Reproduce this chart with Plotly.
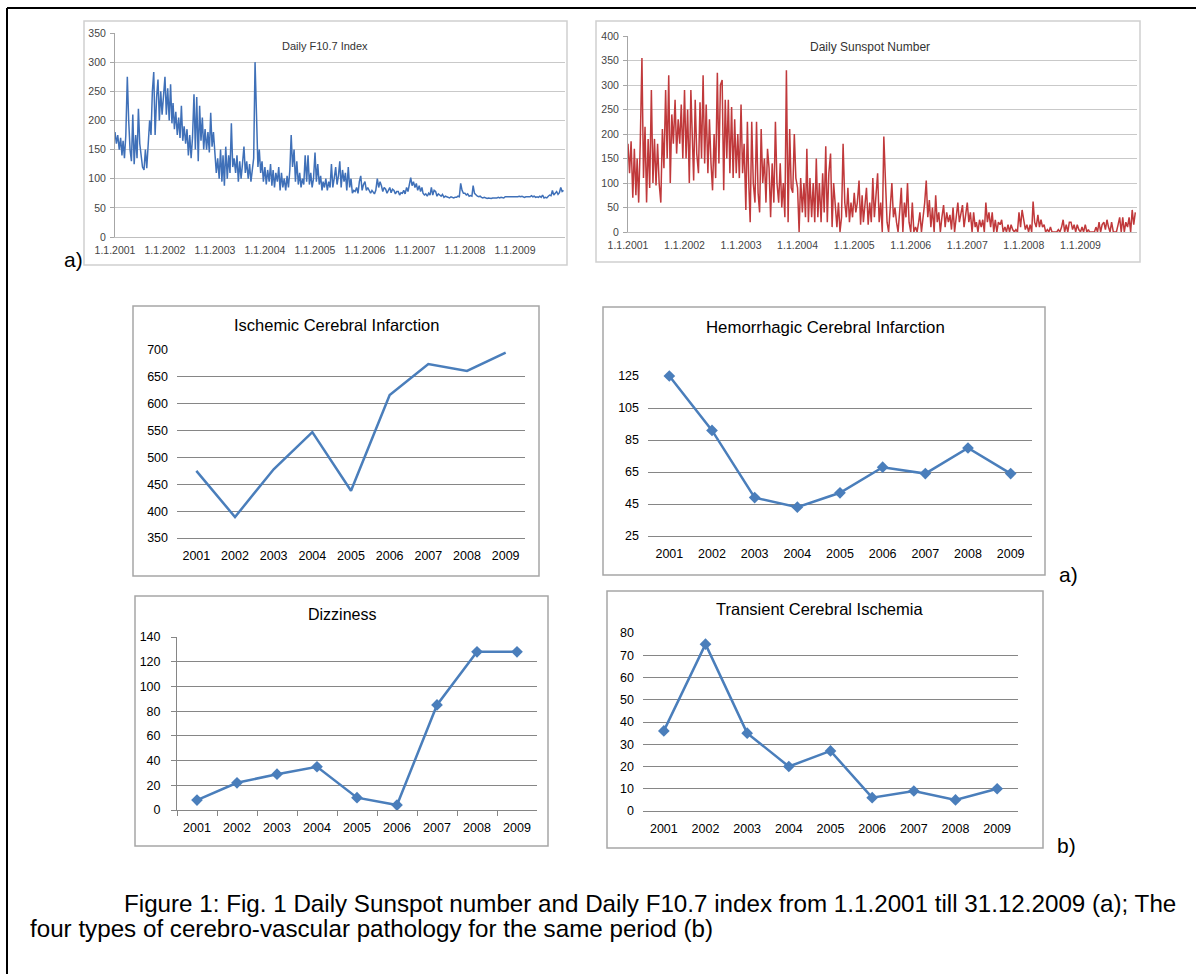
import plotly.graph_objects as go
import datetime as dt

W, H = 1196, 974

# ---------------- data ----------------
years_lbl = ["2001", "2002", "2003", "2004", "2005", "2006", "2007", "2008", "2009"]
year_ticks = ["1.1.2001", "1.1.2002", "1.1.2003", "1.1.2004", "1.1.2005",
              "1.1.2006", "1.1.2007", "1.1.2008", "1.1.2009"]

# Daily F10.7 index (read approx. every 10 days from the picture)
f107_2001 = [180, 160, 175, 150, 170, 140, 165, 135, 175, 275, 200, 150,
             130, 210, 125, 175, 135, 220, 160, 140, 120, 115, 150, 118,
             165, 200, 175, 250, 283, 175, 240, 270, 200, 250, 210, 240]
f107_2002 = [275, 210, 255, 200, 262, 195, 230, 185, 215, 175, 205, 170,
             225, 165, 190, 160, 185, 140, 175, 135, 170, 245, 150, 240,
             130, 225, 165, 205, 150, 185, 150, 180, 145, 213, 155, 180]
f107_2003 = [150, 110, 135, 100, 150, 95, 140, 88, 155, 100, 140, 110,
             195, 120, 135, 110, 140, 95, 130, 100, 125, 155, 110, 130,
             100, 125, 95, 115, 135, 300, 175, 120, 150, 110, 130, 95]
f107_2004 = [120, 90, 115, 95, 125, 88, 115, 85, 110, 95, 120, 80,
             110, 85, 100, 80, 105, 85, 115, 175, 120, 150, 95, 130,
             90, 110, 85, 100, 90, 140, 95, 140, 90, 110, 85, 100]
f107_2005 = [145, 95, 125, 90, 105, 80, 95, 85, 100, 80, 95, 85,
             125, 85, 100, 120, 90, 105, 130, 85, 115, 95, 110, 80,
             120, 85, 100, 75, 80, 78, 85, 75, 95, 105, 80, 90]
f107_2006 = [95, 80, 85, 78, 75, 80, 77, 74, 80, 100, 85, 95,
             88, 78, 85, 82, 75, 80, 85, 76, 82, 80, 74, 78,
             78, 72, 76, 75, 80, 74, 85, 78, 90, 102, 88, 95]
f107_2007 = [85, 92, 80, 88, 78, 85, 75, 72, 74, 70, 75, 72,
             85, 72, 80, 78, 70, 74, 72, 70, 73, 68, 70, 69,
             68, 67, 69, 68, 67, 68, 68, 70, 69, 92, 80, 75]
f107_2008 = [75, 72, 74, 70, 71, 70, 88, 75, 72, 70, 69, 70,
             68, 67, 68, 67, 66, 67, 66, 66, 67, 67, 66, 67,
             68, 67, 68, 68, 67, 69, 69, 68, 68, 68, 69, 68]
f107_2009 = [69, 68, 69, 70, 69, 70, 69, 68, 69, 69, 70, 69,
             71, 69, 70, 68, 69, 68, 70, 68, 72, 67, 68, 67,
             70, 72, 71, 80, 72, 76, 78, 73, 76, 85, 78, 80]

# Daily sunspot number (read approx. every 10 days from the picture)
ssn_2001 = [180, 120, 185, 70, 170, 75, 150, 60, 180, 355, 110, 215,
            60, 190, 90, 290, 100, 190, 95, 180, 100, 60, 210, 130,
            290, 150, 320, 100, 240, 180, 270, 160, 230, 180, 260, 150]
ssn_2002 = [290, 150, 250, 100, 290, 180, 105, 270, 160, 120, 265, 150,
            320, 140, 260, 120, 230, 140, 85, 200, 110, 325, 140, 300,
            310, 85, 270, 150, 270, 120, 255, 110, 230, 120, 200, 110]
ssn_2003 = [260, 120, 180, 45, 225, 90, 20, 225, 100, 60, 225, 80,
            40, 210, 100, 150, 60, 170, 130, 30, 140, 60, 225, 100,
            60, 140, 50, 100, 30, 330, 20, 210, 90, 80, 200, 110]
ssn_2004 = [90, 0, 110, 40, 100, 30, 170, 20, 110, 30, 100, 20,
            150, 30, 100, 20, 120, 40, 175, 20, 120, 160, 10, 100,
            50, 10, 60, 0, 30, 180, 60, 30, 90, 20, 60, 30]
ssn_2005 = [80, 40, 60, 105, 15, 75, 20, 50, 90, 15, 60, 20,
            110, 30, 80, 120, 20, 60, 0, 195, 110, 20, 0, 60,
            100, 30, 50, 20, 0, 40, 90, 0, 60, 30, 100, 20]
ssn_2006 = [0, 60, 0, 10, 0, 20, 40, 0, 30, 60, 105, 30,
            65, 10, 50, 0, 75, 20, 40, 0, 30, 55, 10, 40,
            20, 35, 5, 50, 0, 30, 60, 20, 40, 55, 10, 30]
ssn_2007 = [60, 20, 40, 0, 40, 10, 20, 0, 25, 10, 25, 0,
            60, 20, 40, 10, 40, 0, 25, 0, 20, 15, 25, 0,
            10, 0, 15, 0, 15, 5, 0, 5, 0, 40, 10, 45]
ssn_2008 = [20, 5, 15, 0, 15, 0, 62, 20, 10, 35, 10, 25,
            10, 15, 0, 5, 0, 10, 0, 0, 0, 0, 5, 0,
            10, 25, 0, 15, 0, 20, 20, 5, 15, 0, 15, 5]
ssn_2009 = [0, 10, 0, 15, 0, 5, 0, 0, 0, 0, 10, 0,
            20, 0, 15, 20, 5, 25, 10, 0, 20, 0, 0, 0,
            15, 30, 0, 30, 0, 20, 10, 30, 0, 45, 15, 40]

f107 = (f107_2001 + f107_2002 + f107_2003 + f107_2004 + f107_2005 +
        f107_2006 + f107_2007 + f107_2008 + f107_2009)
ssn = (ssn_2001 + ssn_2002 + ssn_2003 + ssn_2004 + ssn_2005 +
       ssn_2006 + ssn_2007 + ssn_2008 + ssn_2009)

ischemic = [475, 389, 478, 547, 438, 616, 674, 661, 695]
hemorrhagic = [125, 91, 49, 43, 52, 68, 64, 80, 64]
dizziness = [8, 22, 29, 35, 10, 4, 85, 128, 128]
transient = [36, 75, 35, 20, 27, 6, 9, 5, 10]

# dates of the readings: 1st, 11th and 21st of each month
dates = []
for y in range(2001, 2010):
    for m in range(1, 13):
        for d in (1, 11, 21):
            dates.append(dt.date(y, m, d))
tick_dates = [dt.date(int(s), 1, 1) for s in years_lbl]

# ---------------- helpers ----------------
def xd(a, b):
    return [a / W, b / W]

def yd(top, bottom):
    return [1 - bottom / H, 1 - top / H]

def px(x):
    return x / W

def py(y):
    return 1 - y / H

FONT = "Liberation Sans, Arial, sans-serif"
BLUE = "#4a7ebb"

fig = go.Figure()

# top charts
fig.add_trace(go.Scatter(x=dates, y=f107, mode="lines",
                         line=dict(color="#3f70b8", width=1.5),
                         xaxis="x", yaxis="y", showlegend=False))
fig.add_trace(go.Scatter(x=dates, y=ssn, mode="lines",
                         line=dict(color="#c0393b", width=1.5),
                         xaxis="x2", yaxis="y2", showlegend=False))
# middle / bottom charts
fig.add_trace(go.Scatter(x=years_lbl, y=ischemic, mode="lines",
                         line=dict(color=BLUE, width=2.5),
                         xaxis="x3", yaxis="y3", showlegend=False, cliponaxis=False))
fig.add_trace(go.Scatter(x=years_lbl, y=hemorrhagic, mode="lines+markers",
                         line=dict(color=BLUE, width=2.5),
                         marker=dict(symbol="diamond", size=9, color=BLUE),
                         xaxis="x4", yaxis="y4", showlegend=False, cliponaxis=False))
fig.add_trace(go.Scatter(x=years_lbl, y=dizziness, mode="lines+markers",
                         line=dict(color=BLUE, width=2.5),
                         marker=dict(symbol="diamond", size=9, color=BLUE),
                         xaxis="x5", yaxis="y5", showlegend=False, cliponaxis=False))
fig.add_trace(go.Scatter(x=years_lbl, y=transient, mode="lines+markers",
                         line=dict(color=BLUE, width=2.5),
                         marker=dict(symbol="diamond", size=9, color=BLUE),
                         xaxis="x6", yaxis="y6", showlegend=False, cliponaxis=False))

top_tick_font = dict(family=FONT, size=10.5, color="#444444")
mid_tick_font = dict(family=FONT, size=12.5, color="#000000")

layout = dict(
    width=W, height=H, margin=dict(l=0, r=0, t=0, b=0, autoexpand=False),
    paper_bgcolor="white", plot_bgcolor="rgba(0,0,0,0)",
    # F10.7
    xaxis=dict(domain=xd(115, 565), type="date",
               range=[dt.date(2001, 1, 1), dt.date(2010, 1, 1)],
               tickvals=tick_dates, ticktext=year_ticks, showgrid=False,
               showline=True, linecolor="#bfbfbf", linewidth=1,
               tickfont=top_tick_font, ticks="", ticklabelstandoff=3,
               anchor="y"),
    yaxis=dict(domain=yd(33, 237), range=[0, 350], dtick=50,
               showgrid=True, gridcolor="#c9c9c9", gridwidth=1,
               showline=True, linecolor="#a6a6a6", ticks="outside",
               ticklen=4, tickcolor="#a6a6a6", zeroline=False,
               tickfont=top_tick_font, ticklabelstandoff=2, anchor="x"),
    # Sunspot
    xaxis2=dict(domain=xd(628, 1137), type="date",
                range=[dt.date(2001, 1, 1), dt.date(2010, 1, 1)],
                tickvals=tick_dates, ticktext=year_ticks, showgrid=False,
                showline=True, linecolor="#bfbfbf", linewidth=1,
                tickfont=top_tick_font, ticks="", ticklabelstandoff=3,
                anchor="y2"),
    yaxis2=dict(domain=yd(36, 232), range=[0, 400], dtick=50,
                showgrid=True, gridcolor="#c9c9c9", gridwidth=1,
                showline=True, linecolor="#a6a6a6", ticks="outside",
                ticklen=4, tickcolor="#a6a6a6", zeroline=False,
                tickfont=top_tick_font, ticklabelstandoff=2, anchor="x2"),
)

mid_specs = [
    # (axis idx, x px left,right, y px top,bottom, range, dtick, dizziness-style)
    (3, 177, 525, 350, 538, [350, 700], 50, False),
    (4, 648, 1032, 376, 536, [25, 125], 20, False),
    (5, 177, 537, 637, 810, [0, 140], 20, True),
    (6, 643, 1018, 633, 811, [0, 80], 10, False),
]
for idx, xl, xr, yt, yb, rng, dtk, styled in mid_specs:
    layout[f"xaxis{idx}"] = dict(
        domain=xd(xl, xr), type="category", range=[-0.5, 8.5],
        showgrid=False, showline=True, linecolor="#868686", linewidth=1,
        tickfont=mid_tick_font, anchor=f"y{idx}",
        ticks="outside" if styled else "", tickson="boundaries",
        ticklen=5, tickcolor="#868686", ticklabelstandoff=6)
    layout[f"yaxis{idx}"] = dict(
        domain=yd(yt, yb), range=rng, dtick=dtk, tick0=rng[0],
        showgrid=True, gridcolor="#868686", gridwidth=1, zeroline=False,
        showline=styled, linecolor="#868686",
        ticks="outside" if styled else "", ticklen=5, tickcolor="#868686",
        tickfont=mid_tick_font, anchor=f"x{idx}", ticklabelstandoff=8)

shapes = []
# outer frame
shapes.append(dict(type="line", xref="paper", yref="paper",
                   x0=px(7), x1=px(1196), y0=py(8), y1=py(8),
                   line=dict(color="black", width=2)))
shapes.append(dict(type="line", xref="paper", yref="paper",
                   x0=px(7), x1=px(7), y0=py(8), y1=py(974),
                   line=dict(color="black", width=2)))
# chart boxes
boxes = [
    (84, 21, 567, 265, "#d0d0d0", 1.5),
    (596, 21, 1140, 262, "#d0d0d0", 1.5),
    (133, 306, 539, 576, "#a6a6a6", 1.5),
    (603, 307, 1045, 575, "#a6a6a6", 1.5),
    (135, 596, 548, 846, "#a6a6a6", 1.5),
    (607, 591, 1043, 848, "#a6a6a6", 1.5),
]
for x0, y0, x1, y1, c, w in boxes:
    shapes.append(dict(type="rect", xref="paper", yref="paper",
                       x0=px(x0), x1=px(x1), y0=py(y1), y1=py(y0),
                       line=dict(color=c, width=w), fillcolor="rgba(0,0,0,0)",
                       layer="below"))

annotations = []
def text(x, y, s, size, color="#000000", xanchor="center"):
    annotations.append(dict(x=px(x), y=py(y), xref="paper", yref="paper",
                            text=s, showarrow=False, xanchor=xanchor,
                            yanchor="middle",
                            font=dict(family=FONT, size=size, color=color)))

text(325, 46, "Daily F10.7 Index", 11, "#333333")
text(870, 47, "Daily Sunspot Number", 12, "#333333")
text(336, 325, "Ischemic Cerebral Infarction", 16.5)
text(825, 327, "Hemorrhagic Cerebral Infarction", 16.8)
text(342, 614, "Dizziness", 16)
text(819, 609, "Transient Cerebral Ischemia", 16.5)
text(62, 259, "a)", 21, xanchor="left")
text(1057, 574, "a)", 21, xanchor="left")
text(1055, 845, "b)", 21, xanchor="left")
text(122, 903, "Figure 1: Fig. 1 Daily Sunspot number and Daily F10.7 index from "
     "1.1.2001 till 31.12.2009 (a); The", 24.2, xanchor="left")
text(28, 928, "four types of cerebro-vascular pathology for the same period (b)",
     24.2, xanchor="left")

layout["shapes"] = shapes
layout["annotations"] = annotations
fig.update_layout(**layout)

fig.write_html(
    "out.html",
    config={"displayModeBar": False},
    post_script=("document.body.style.margin='0';"
                 "document.body.style.padding='0';"
                 "document.documentElement.style.overflow='hidden';"),
)
